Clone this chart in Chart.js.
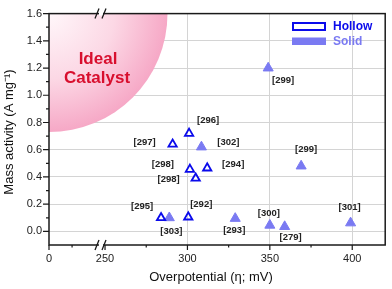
<!DOCTYPE html>
<html>
<head>
<meta charset="utf-8">
<script src="https://cdn.jsdelivr.net/npm/chart.js@4"></script>
<style>
  html, body { margin: 0; padding: 0; background: #fff; }
  #wrap { width: 392px; height: 289px; }
</style>
</head>
<body>
<div id="wrap"><canvas id="chart" width="392" height="289"></canvas></div>
<script>
// Mass activity vs overpotential, hollow vs solid catalysts

const FONT = "'Liberation Sans', Arial, sans-serif";

// hollow catalysts
const hollowX = [284, 291, 300.5, 301, 305, 301.5, 312];
const hollowY = [0.10, 0.64, 0.105, 0.72, 0.39, 0.455, 0.465];
const hollowRefs = ['[295]', '[297]', '[292]', '[296]', '[298]', '[298]', '[294]'];

// solid catalysts
const solidX = [289, 308.5, 349, 369, 329, 350, 359, 399];
const solidY = [0.10, 0.62, 1.20, 0.48, 0.095, 0.045, 0.035, 0.062];
const solidRefs = ['[303]', '[302]', '[299]', '[299]', '[293]', '[300]', '[279]', '[301]'];

// axis ticks (x axis is broken: the first tick stands for 0)
const xTickValues = [216, 230, 250, 275, 300, 325, 350, 375, 400];
const xTickLabels = ['0', '', '250', '', '300', '', '350', '', '400'];
const yTickValues = [0, 0.1, 0.2, 0.3, 0.4, 0.5, 0.6, 0.7, 0.8, 0.9, 1.0, 1.1, 1.2, 1.3, 1.4, 1.5, 1.6];
const yTickLabels = ['0.0', '', '0.2', '', '0.4', '', '0.6', '', '0.8', '', '1.0', '', '1.2', '', '1.4', '', '1.6'];

// where each reference label sits relative to its marker (px)
const hollowLabelOffsets = [[-19, -11], [-28, -2], [13, -13], [19, -13], [-27, 1], [-27, -5], [26, -4]];
const solidLabelOffsets = [[2, 14], [27, -5], [15, 12], [5, -17], [-1, 12], [-1, -12], [6, 11], [-1, -16]];

const HOLLOW_COLOR = '#0a0aeb';
const SOLID_COLOR = '#7a7af2';
const AXIS_COLOR = '#1a1a1a';

function toPoints(xs, ys) {
  return xs.map((x, i) => ({ x, y: ys[i] }));
}

const decorPlugin = {
  id: 'decor',
  beforeDatasetsDraw(chart) {
    const { ctx, chartArea: a } = chart;
    ctx.save();
    ctx.beginPath();
    ctx.rect(a.left, a.top, a.right - a.left, a.bottom - a.top);
    ctx.clip();
    // "ideal catalyst" quarter circle in the corner
    const r = 118.5;
    const g = ctx.createRadialGradient(a.left, a.top, 0, a.left, a.top, r);
    g.addColorStop(0, '#fff7fa');
    g.addColorStop(0.55, '#fcd8e5');
    g.addColorStop(1, '#f6a8c6');
    ctx.fillStyle = g;
    ctx.beginPath();
    ctx.moveTo(a.left, a.top);
    ctx.arc(a.left, a.top, r, 0, Math.PI / 2);
    ctx.closePath();
    ctx.fill();
    ctx.fillStyle = '#d80f2e';
    ctx.font = 'bold 17px ' + FONT;
    ctx.textAlign = 'center';
    ctx.textBaseline = 'middle';
    ctx.fillText('Ideal', a.left + 49, a.top + 46);
    ctx.fillText('Catalyst', a.left + 48, a.top + 65);
    ctx.restore();
  },
  afterDatasetsDraw(chart) {
    const { ctx } = chart;
    ctx.save();
    ctx.font = 'bold 9.5px ' + FONT;
    ctx.fillStyle = '#222';
    ctx.textAlign = 'center';
    ctx.textBaseline = 'middle';
    const sets = [[hollowRefs, hollowLabelOffsets], [solidRefs, solidLabelOffsets]];
    sets.forEach(([refs, offs], di) => {
      chart.getDatasetMeta(di).data.forEach((pt, i) => {
        ctx.fillText(refs[i], pt.x + offs[i][0], pt.y + offs[i][1]);
      });
    });
    ctx.restore();
  },
  afterDraw(chart) {
    const { ctx, chartArea: a, scales } = chart;
    ctx.save();
    ctx.strokeStyle = AXIS_COLOR;
    ctx.lineWidth = 1.5;
    ctx.strokeRect(a.left, a.top, a.right - a.left, a.bottom - a.top);

    // tick marks, outward
    ctx.lineWidth = 1.2;
    ctx.beginPath();
    xTickValues.forEach((v, i) => {
      const px = scales.x.getPixelForValue(v);
      const len = xTickLabels[i] ? 5 : 2.5;
      ctx.moveTo(px, a.bottom);
      ctx.lineTo(px, a.bottom + len);
    });
    yTickValues.forEach((v, i) => {
      const py = scales.y.getPixelForValue(v);
      const len = yTickLabels[i] ? 6 : 3;
      ctx.moveTo(a.left - len, py);
      ctx.lineTo(a.left, py);
    });
    ctx.stroke();

    // axis break marks
    const bx = a.left + 52;
    [a.top, a.bottom].forEach(y => {
      ctx.fillStyle = '#fff';
      ctx.fillRect(bx - 2, y - 2, 4, 4);
      ctx.beginPath();
      ctx.moveTo(bx - 6, y + 5);
      ctx.lineTo(bx - 2, y - 5);
      ctx.moveTo(bx + 1, y + 5);
      ctx.lineTo(bx + 5, y - 5);
      ctx.lineWidth = 1.3;
      ctx.stroke();
    });

    // legend
    const ds = chart.data.datasets;
    ctx.lineWidth = 2;
    ctx.strokeStyle = ds[0].borderColor;
    ctx.strokeRect(293, 23, 32, 7);
    ctx.fillStyle = ds[1].backgroundColor;
    ctx.fillRect(292, 37.5, 34, 7.5);
    ctx.font = 'bold 12px ' + FONT;
    ctx.textAlign = 'left';
    ctx.textBaseline = 'middle';
    ctx.fillStyle = ds[0].borderColor;
    ctx.fillText(ds[0].label, 333, 26.5);
    ctx.fillStyle = ds[1].backgroundColor;
    ctx.fillText(ds[1].label, 333, 41.5);

    // axis titles
    ctx.fillStyle = '#111';
    ctx.font = '13px ' + FONT;
    ctx.textAlign = 'center';
    ctx.fillText('Overpotential (\u03b7; mV)', 211, 277);
    ctx.translate(9, 132);
    ctx.rotate(-Math.PI / 2);
    ctx.fillText('Mass activity (A mg\u207b\u00b9)', 0, 0);
    ctx.restore();
  }
};

document.addEventListener('DOMContentLoaded', () => {
  const ctx = document.getElementById('chart').getContext('2d');
  new Chart(ctx, {
    type: 'scatter',
    data: {
      datasets: [
        {
          label: 'Hollow',
          data: toPoints(hollowX, hollowY),
          pointStyle: 'triangle',
          pointRadius: 4.8,
          borderColor: HOLLOW_COLOR,
          backgroundColor: 'rgba(255,255,255,0)',
          borderWidth: 1.8,
        },
        {
          label: 'Solid',
          data: toPoints(solidX, solidY),
          pointStyle: 'triangle',
          pointRadius: 5.8,
          borderColor: SOLID_COLOR,
          backgroundColor: SOLID_COLOR,
          borderWidth: 1,
        },
      ],
    },
    options: {
      responsive: false,
      animation: false,
      layout: { padding: { top: 6, right: 2, left: 0, bottom: 0 } },
      plugins: { legend: { display: false }, tooltip: { enabled: false } },
      scales: {
        x: {
          type: 'linear',
          min: 216,
          max: 420,
          afterBuildTicks: scale => { scale.ticks = xTickValues.map(v => ({ value: v })); },
          afterFit: scale => { scale.height = 44; },
          border: { display: false },
          grid: {
            drawTicks: false,
            color: c => (c.tick && [300, 350, 400].includes(c.tick.value)) ? '#d4d4d4' : 'rgba(0,0,0,0)',
            borderDash: [1.5, 2],
            lineWidth: 1,
          },
          ticks: {
            autoSkip: false,
            maxRotation: 0,
            padding: 7,
            color: '#222',
            font: { family: FONT, size: 11 },
            callback: (v, i) => xTickLabels[i],
          },
        },
        y: {
          min: -0.1,
          max: 1.6,
          afterBuildTicks: scale => { scale.ticks = yTickValues.map(v => ({ value: v })); },
          afterFit: scale => { scale.width = 49; },
          border: { display: false },
          grid: {
            drawTicks: false,
            color: c => (c.tick && yTickLabels[c.index] && c.tick.value < 1.55) ? '#d4d4d4' : 'rgba(0,0,0,0)',
            borderDash: [1.5, 2],
            lineWidth: 1,
          },
          ticks: {
            autoSkip: false,
            padding: 7,
            color: '#222',
            font: { family: FONT, size: 11 },
            callback: (v, i) => yTickLabels[i],
          },
        },
      },
    },
    plugins: [decorPlugin],
  });
});
</script>
</body>
</html>
